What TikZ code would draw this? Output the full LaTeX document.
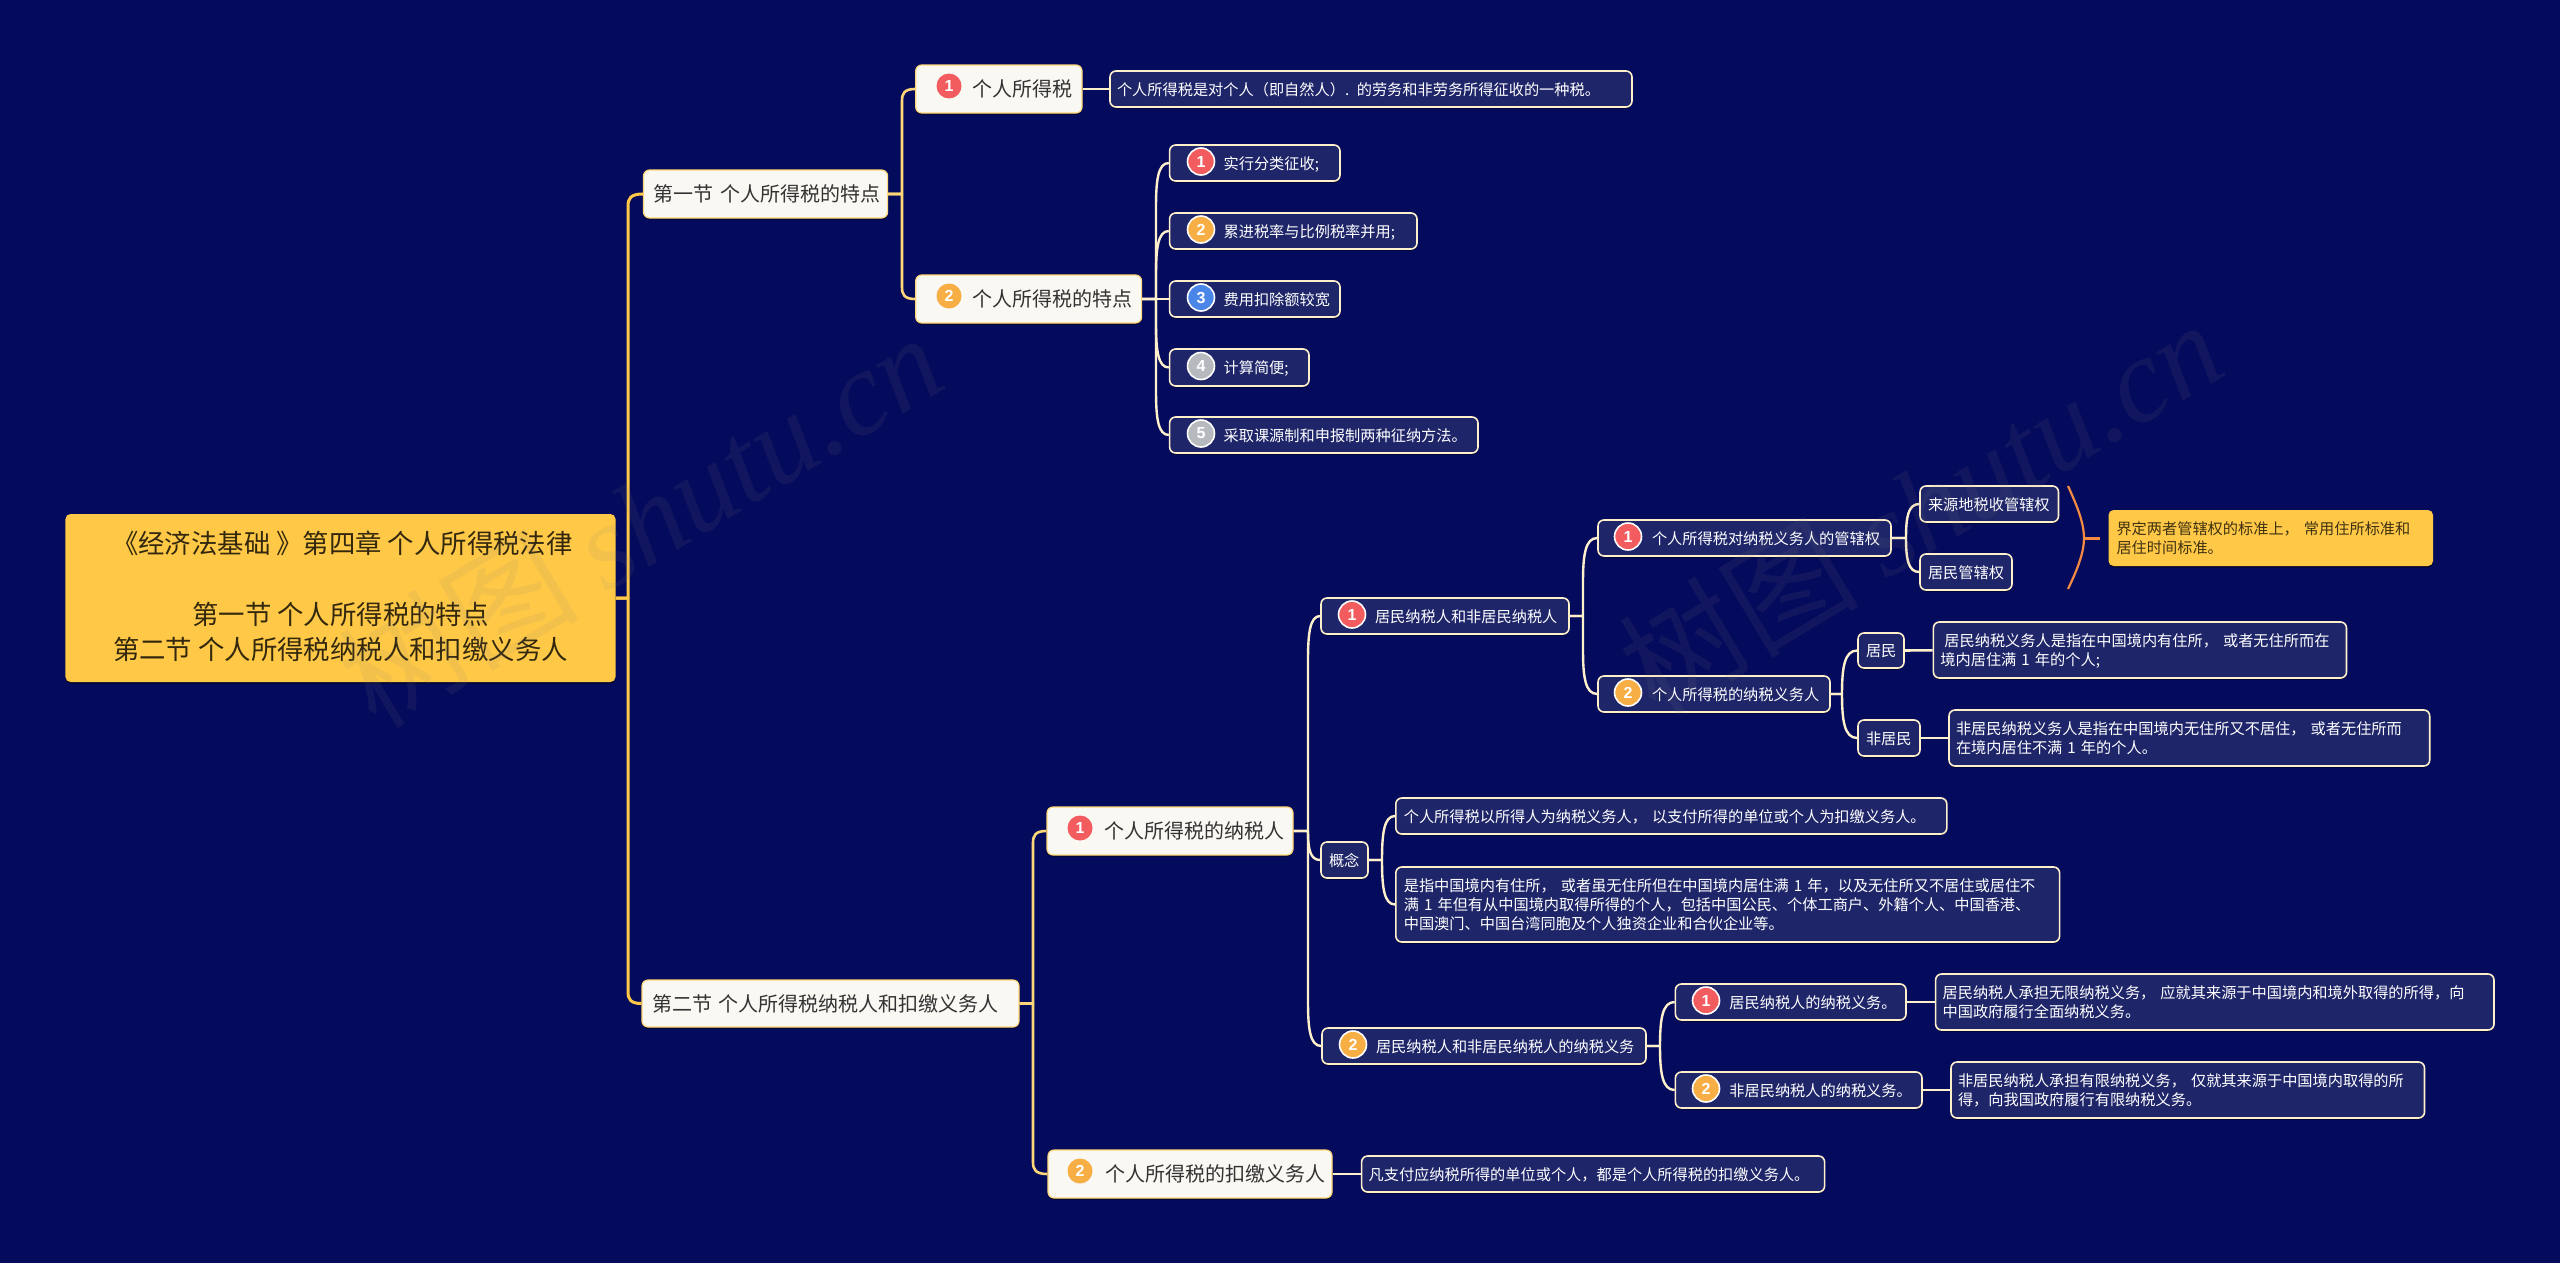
\documentclass[tikz,border=0pt]{standalone}
\usepackage{fontspec}
\setmainfont{Noto Sans CJK SC}
\newfontfamily\wmlatin{Liberation Serif}
\newfontfamily\digitfont{Liberation Sans}
\usetikzlibrary{shadows,calc}
\definecolor{bgc}{HTML}{050B5C}
\definecolor{descfill}{HTML}{1E2569}
\definecolor{bordc}{HTML}{FFF0CC}
\definecolor{gold}{HTML}{FFC947}
\definecolor{softgold}{HTML}{FFD778}
\definecolor{whitefill}{HTML}{FAF8F3}
\definecolor{inkdark}{HTML}{333333}
\definecolor{badgered}{HTML}{F25C5F}
\definecolor{badgeor}{HTML}{F7AE45}
\definecolor{badgebl}{HTML}{4A86E8}
\definecolor{badgegr}{HTML}{B6BABF}
\definecolor{bracec}{HTML}{F58A42}
\tikzset{
  x=1mm,y=-1mm,
  softshadow/.style={drop shadow={shadow xshift=0mm,shadow yshift=-1.6mm,fill=black,opacity=.55}},
  descbox/.style={draw=bordc,line width=1.6mm,fill=descfill,rounded corners=6mm,text=white,softshadow,
     font=\fontsize{15.2mm}{19mm}\selectfont},
  whitebox/.style={draw=softgold,line width=1.2mm,fill=whitefill,rounded corners=6mm,text=inkdark,softshadow,
     font=\fontsize{20mm}{25mm}\selectfont},
  rootbox/.style={fill=gold,rounded corners=5mm,text=black!80!gold,softshadow,
     font=\fontsize{26.4mm}{35.5mm}\selectfont},
  notebox/.style={fill=gold,rounded corners=5mm,text=black!75!gold,softshadow,
     font=\fontsize{15.2mm}{19mm}\selectfont},
  badgeA/.style={circle,inner sep=0pt,minimum size=25mm,text=white,font=\digitfont\bfseries\fontsize{16mm}{16mm}\selectfont},
  badgeB/.style={badgeA,draw=white,line width=1.6mm,minimum size=27mm},
  trunkA/.style={draw=gold,line width=3mm},
  trunkB/.style={draw=softgold,line width=2.6mm},
  trunkC/.style={draw=bordc,line width=2.4mm},
  stub/.style={draw=bordc,line width=2.6mm},
  bracel/.style={draw=bracec,line width=2.2mm},
  wmark/.style={text=gray,opacity=.1,rotate=31,transform shape,font=\fontsize{120mm}{120mm}\selectfont},
}
\newcommand\mmbox[7][descbox]{%
  \pgfmathsetmacro\mmW{#4-#3}\pgfmathsetmacro\mmH{#6-#5}%
  \pgfmathsetmacro\mmX{(#3+#4)/2}\pgfmathsetmacro\mmY{(#5+#6)/2}%
  \node[#1,inner sep=0pt,align=left,text width=\mmW mm,minimum height=\mmH mm] (#2) at (\mmX,\mmY)
    {\hspace*{#7mm}\raisebox{-2.5mm}[\height][\depth]{\begin{tabular}{@{}l@{}}\mmtext\end{tabular}}};}
\newcommand\mmt[1]{\def\mmtext{#1}}
\newcommand\mmconn[5][trunkC]{%
  \draw[#1,line join=round] let \p1=(#2.east),\p2=(#3.west),\n1={#4*1mm},
     \n2={\y2+(\y1>\y2?1:-1)*min(abs(\y1-\y2),#5*1mm)},
     \n3={\n2+(\y2-\n2)*0.6},\n4={\n1+(\x2-\n1)*0.15} in
     (\p1) -- (\n1,\y1) -- (\n1,\n2) .. controls (\n1,\n3) and (\n4,\y2) .. (\p2);}
\begin{document}
\begin{tikzpicture}
\useasboundingbox (0,0) rectangle (2560,1263);
\pgfdeclarelayer{conn}\pgfdeclarelayer{bgl}\pgfsetlayers{bgl,conn,main}
\begin{pgfonlayer}{bgl}\fill[bgc] (0,0) rectangle (2560,1263);\end{pgfonlayer}

% root
\node[rootbox,inner sep=0pt,minimum width=550mm,minimum height=168mm] (root) at (340.5,598)
  {\raisebox{-1.5mm}[\height][\depth]{\begin{tabular}{@{}c@{}}\hspace*{4mm}《经济法基础 》第四章 个人所得税法律\\ \mbox{}\\ 第一节 个人所得税的特点\\ 第二节 个人所得税纳税人和扣缴义务人\end{tabular}}};

% level 1
\mmt{第一节 个人所得税的特点}\mmbox[whitebox]{secA}{643.5}{887.6}{170}{218}{10}
\mmt{第二节 个人所得税纳税人和扣缴义务人}\mmbox[whitebox]{secB}{642}{1019}{980}{1027}{10}

% section A
\mmt{个人所得税}\mmbox[whitebox]{aOne}{915.7}{1082}{65}{113}{57}
\node[badgeA,fill=badgered] (aOneB) at (949,86) {1};
\mmt{个人所得税的特点}\mmbox[whitebox]{aTwo}{915.7}{1141.6}{275}{323}{57}
\node[badgeA,fill=badgeor] (aTwoB) at (949,296) {2};
\mmt{个人所得税是对个人（即自然人）. 的劳务和非劳务所得征收的一种税。}\mmbox{aDesc}{1110}{1632}{71}{107}{7}

\mmt{实行分类征收;}\mmbox{iOne}{1169.6}{1340}{145}{181}{54}
\node[badgeB,fill=badgered] (iOneB) at (1201,161.5) {1};
\mmt{累进税率与比例税率并用;}\mmbox{iTwo}{1169.6}{1417}{213}{249}{54}
\node[badgeB,fill=badgeor] (iTwoB) at (1201,229.5) {2};
\mmt{费用扣除额较宽}\mmbox{iThree}{1169.6}{1340}{281}{317}{54}
\node[badgeB,fill=badgebl] (iThreeB) at (1201,297.5) {3};
\mmt{计算简便;}\mmbox{iFour}{1169.6}{1309}{349}{386}{54}
\node[badgeB,fill=badgegr] (iFourB) at (1201,366) {4};
\mmt{采取课源制和申报制两种征纳方法。}\mmbox{iFive}{1169.6}{1478}{417}{453}{54}
\node[badgeB,fill=badgegr] (iFiveB) at (1201,433.5) {5};

% section B
\mmt{个人所得税的纳税人}\mmbox[whitebox]{bOne}{1047}{1293}{807}{855}{57}
\node[badgeA,fill=badgered] (bOneB) at (1080,828) {1};
\mmt{个人所得税的扣缴义务人}\mmbox[whitebox]{bTwo}{1048}{1332}{1150}{1198}{57}
\node[badgeA,fill=badgeor] (bTwoB) at (1080,1171) {2};
\mmt{凡支付应纳税所得的单位或个人，都是个人所得税的扣缴义务人。}\mmbox{bDesc}{1361.6}{1824.6}{1156}{1192}{7}

\mmt{居民纳税人和非居民纳税人}\mmbox{cOne}{1321}{1569}{598}{634}{54}
\node[badgeB,fill=badgered] (cOneB) at (1352,614.5) {1};
\mmt{概念}\mmbox{cTwo}{1321}{1368}{842}{878}{8}
\mmt{居民纳税人和非居民纳税人的纳税义务}\mmbox{cThree}{1322}{1646}{1028}{1064}{54}
\node[badgeB,fill=badgeor] (cThreeB) at (1353,1044.5) {2};

\mmt{个人所得税对纳税义务人的管辖权}\mmbox{dOne}{1598}{1891}{520}{556}{54}
\node[badgeB,fill=badgered] (dOneB) at (1628,536.5) {1};
\mmt{个人所得税的纳税义务人}\mmbox{dTwo}{1598}{1830}{676}{712}{54}
\node[badgeB,fill=badgeor] (dTwoB) at (1628,692.5) {2};

\mmt{来源地税收管辖权}\mmbox{eOne}{1920}{2058.5}{486}{522}{8}
\mmt{居民管辖权}\mmbox{eTwo}{1920}{2012}{554}{590}{8}
\mmt{界定两者管辖权的标准上， 常用住所标准和\\居住时间标准。}\mmbox[notebox]{note}{2108.5}{2433}{510}{566}{8}

\mmt{居民}\mmbox{fOne}{1858}{1904}{633}{668}{8}
\mmt{非居民}\mmbox{fTwo}{1858}{1920}{720}{756}{8}
\mmt{\hspace*{4mm}居民纳税义务人是指在中国境内有住所， 或者无住所而在\\境内居住满 1 年的个人;}\mmbox{fOneD}{1933.4}{2346.5}{622}{678}{7}
\mmt{非居民纳税义务人是指在中国境内无住所又不居住， 或者无住所而\\在境内居住不满 1 年的个人。}\mmbox{fTwoD}{1949}{2429.7}{710}{766}{7}

\mmt{个人所得税以所得人为纳税义务人， 以支付所得的单位或个人为扣缴义务人。}\mmbox{gOne}{1395.8}{1946.8}{798}{834}{8}
\mmt{是指中国境内有住所， 或者虽无住所但在中国境内居住满 1 年，以及无住所又不居住或居住不\\满 1 年但有从中国境内取得所得的个人，包括中国公民、个体工商户、外籍个人、中国香港、\\中国澳门、中国台湾同胞及个人独资企业和合伙企业等。}\mmbox{gTwo}{1395.8}{2059.6}{867}{942}{8}

\mmt{居民纳税人的纳税义务。}\mmbox{hOne}{1675.4}{1906}{984}{1020}{54}
\node[badgeB,fill=badgered] (hOneB) at (1706,1000.5) {1};
\mmt{非居民纳税人的纳税义务。}\mmbox{hTwo}{1675.4}{1922}{1072}{1108}{54}
\node[badgeB,fill=badgeor] (hTwoB) at (1706,1088.5) {2};
\mmt{居民纳税人承担无限纳税义务， 应就其来源于中国境内和境外取得的所得，向\\中国政府履行全面纳税义务。}\mmbox{hOneD}{1935.6}{2494}{974}{1030}{7}
\mmt{非居民纳税人承担有限纳税义务， 仅就其来源于中国境内取得的所\\得，向我国政府履行有限纳税义务。}\mmbox{hTwoD}{1951}{2424.5}{1062}{1118}{7}

% brace coordinates
\coordinate (brTop) at (2068,486);
\coordinate (brMid) at (2084,538);
\coordinate (brBot) at (2068,589);
\coordinate (brEnd) at (2100,538);

\begin{pgfonlayer}{conn}
\mmconn[trunkA]{root}{secA}{628}{12}
\mmconn[trunkA]{root}{secB}{628}{12}
\mmconn[trunkB]{secA}{aOne}{902}{12}
\mmconn[trunkB]{secA}{aTwo}{902}{12}
\mmconn[trunkB]{secB}{bOne}{1033}{12}
\mmconn[trunkB]{secB}{bTwo}{1033}{12}
\draw[stub] (aOne) -- (aDesc);
\draw[stub] (bTwo) -- (bDesc);
\foreach \c in {iOne,iTwo,iThree,iFour,iFive}{\mmconn{aTwo}{\c}{1156}{44}}
\foreach \c in {cOne,cTwo,cThree}{\mmconn{bOne}{\c}{1308}{44}}
\foreach \c in {dOne,dTwo}{\mmconn{cOne}{\c}{1583}{44}}
\foreach \c in {eOne,eTwo}{\mmconn{dOne}{\c}{1906}{44}}
\foreach \c in {fOne,fTwo}{\mmconn{dTwo}{\c}{1842}{44}}
\foreach \c in {gOne,gTwo}{\mmconn{cTwo}{\c}{1382}{44}}
\foreach \c in {hOne,hTwo}{\mmconn{cThree}{\c}{1660}{44}}
\draw[stub] (fOne) -- (fOneD);
\draw[stub] (fTwo) -- (fTwoD);
\draw[stub] (hOne) -- (hOneD);
\draw[stub] (hTwo) -- (hTwoD);
\draw[bracel] (brTop) .. controls (2079,510) and (2084,525) .. (brMid) .. controls (2084,551) and (2079,566) .. (brBot);
\draw[bracel,line width=3mm] (brMid) -- (brEnd);
\end{pgfonlayer}

% watermark
\node[wmark] (wmA) at (640,519) {\fontspec{Noto Sans CJK SC}树图 {\wmlatin\itshape shutu.cn}};
\node[wmark] (wmB) at (1920,506) {\fontspec{Noto Sans CJK SC}树图 {\wmlatin\itshape shutu.cn}};
\end{tikzpicture}
\end{document}
